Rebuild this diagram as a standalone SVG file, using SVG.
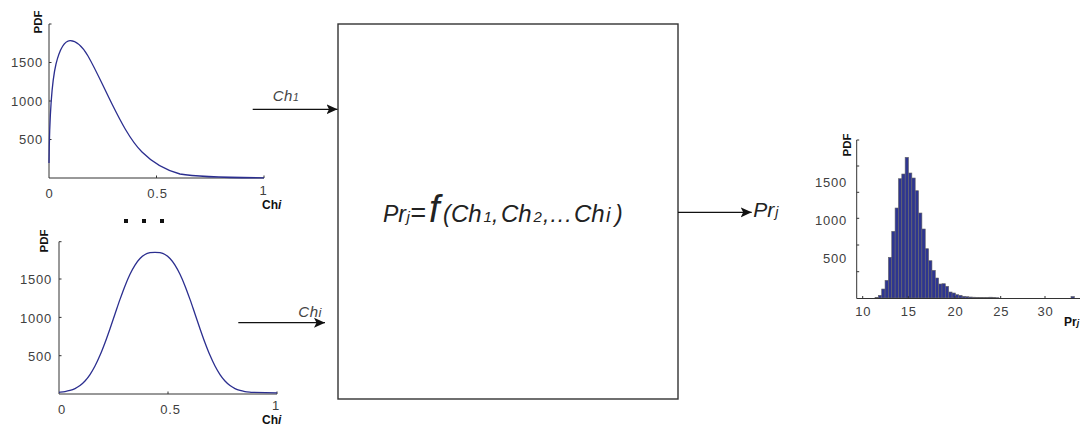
<svg xmlns="http://www.w3.org/2000/svg" width="1080" height="426" viewBox="0 0 1080 426">
<style>
.ax{stroke:#333;stroke-width:1;fill:none}
.tk{font-family:"Liberation Sans",Arial,sans-serif;font-size:13px;fill:#404040;letter-spacing:0.8px}
.pdf{font-family:"Liberation Sans",Arial,sans-serif;font-weight:bold;font-size:11.5px;fill:#111}
.xl{font-family:"Liberation Sans",Arial,sans-serif;font-weight:bold;font-size:12px;fill:#111}
.curve{stroke:#2b2e8f;stroke-width:1.3;fill:none}
.bar{fill:#2e3590;stroke:#666;stroke-width:0.6}
.arr{stroke:#111;stroke-width:1.3;fill:none}
.lbl{font-family:"Liberation Sans",Arial,sans-serif;font-style:italic;fill:#444;font-size:15px}
.fx{font-family:"Liberation Sans",Arial,sans-serif;font-style:italic;fill:#222}
.box{fill:#fff;stroke:#333;stroke-width:1.4}
.dot{fill:#111}
</style>
<defs>
<marker id="ah" markerUnits="userSpaceOnUse" markerWidth="12" markerHeight="11" refX="11" refY="5.5" orient="auto">
<path d="M0,0.5 L11,5.5 L0,10.5 L2.5,5.5 z" fill="#111"/>
</marker>
</defs>

<g id="plot-top">
<path class="ax" d="M49,24 V178 H264"/>
<path class="ax" d="M49,24 h2.5 M49,62.5 h2.5 M49,101 h2.5 M49,139.5 h2.5 M156.5,178 v-2.5 M264,178 v-2.5"/>
<text class="tk" text-anchor="end" x="43" y="67">1500</text>
<text class="tk" text-anchor="end" x="43" y="106">1000</text>
<text class="tk" text-anchor="end" x="43" y="144">500</text>
<text class="tk" text-anchor="middle" x="49.5" y="197.5">0</text>
<text class="tk" text-anchor="middle" x="157.5" y="197.5">0.5</text>
<text class="tk" text-anchor="middle" x="263.5" y="195">1</text>
<text class="pdf" text-anchor="middle" transform="translate(42,22) rotate(-90)">PDF</text>
<text class="xl" x="262" y="208.5">Ch<tspan font-style="italic">i</tspan></text>
<path class="curve" d="M49,163 C49.5,120 51,85 56,64 C60,48 65,41 70,40.7 C76,40.5 82,46 88,56 C96,70 104,88 112,104 C120,120 130,140 142,152 C152,162 165,170 180,174 C200,177.5 230,177.7 264,177.8"/>
</g>

<g id="dots">
<rect class="dot" x="124" y="219" width="4" height="4"/>
<rect class="dot" x="142" y="219" width="4" height="4"/>
<rect class="dot" x="160" y="219" width="4" height="4"/>
</g>

<g id="plot-bottom">
<path class="ax" d="M59,241.7 V394 H277"/>
<path class="ax" d="M59,241.7 h2.5 M59,279 h2.5 M59,317.4 h2.5 M59,355.7 h2.5 M168,394 v-2.5 M277,394 v-2.5"/>
<text class="tk" text-anchor="end" x="52" y="284">1500</text>
<text class="tk" text-anchor="end" x="52" y="322.5">1000</text>
<text class="tk" text-anchor="end" x="52" y="361">500</text>
<text class="tk" text-anchor="middle" x="62" y="414">0</text>
<text class="tk" text-anchor="middle" x="170.5" y="414">0.5</text>
<text class="tk" text-anchor="middle" x="276" y="410">1</text>
<text class="pdf" text-anchor="middle" transform="translate(48,241) rotate(-90)">PDF</text>
<text class="xl" x="262" y="423.5">Ch<tspan font-style="italic">i</tspan></text>
<path class="curve" d="M59,392.29 C60,392.17 63.17,391.89 65,391.59 S68.33,390.97 70,390.47 S73.33,389.39 75,388.57 S78.33,386.8 80,385.53 S83.33,382.8 85,380.97 S88.33,377.04 90,374.55 S93.33,369.23 95,366.03 S98.33,359.23 100,355.35 S103.33,347.17 105,342.73 S108.33,333.49 110,328.69 S113.33,318.83 115,313.95 S118.33,304.06 120,299.39 S123.33,290.09 125,285.91 S128.33,277.76 130,274.29 S133.33,267.7 135,265.07 S138.33,260.25 140,258.49 S143.33,255.46 145,254.49 S148.33,253.03 150,252.66 S153.33,252.3 155,252.3 S158.33,252.3 160,252.66 S163.33,253.52 165,254.49 S168.33,256.73 170,258.49 S173.33,262.44 175,265.07 S178.33,270.82 180,274.29 S183.33,281.73 185,285.91 S188.33,294.72 190,299.39 S193.33,309.07 195,313.95 S198.33,323.89 200,328.69 S203.33,338.29 205,342.73 S208.33,351.47 210,355.35 S213.33,362.83 215,366.03 S218.33,372.06 220,374.55 S223.33,379.14 225,380.97 S228.33,384.26 230,385.53 S233.33,387.75 235,388.57 S238.33,389.97 240,390.47 S243.33,391.29 245,391.59 S250,392.17 251,392.29 L277,392.8"/>
</g>

<g id="box-f">
<rect class="box" x="338" y="24" width="340" height="375"/>
<text class="fx" y="221.7"><tspan x="383" font-size="23">Pr</tspan><tspan x="406.5" font-size="15">j</tspan><tspan x="410" font-size="27">=</tspan><tspan x="429" font-size="38">f</tspan><tspan x="443" font-size="23">(</tspan><tspan x="451" font-size="24">Ch</tspan><tspan x="483.5" font-size="15">1</tspan><tspan x="492" font-size="23">,</tspan><tspan x="501" font-size="24">Ch</tspan><tspan x="533.5" font-size="15">2</tspan><tspan x="543" font-size="23" letter-spacing="1">,...</tspan><tspan x="574" font-size="24">Ch</tspan><tspan x="606" font-size="20">i</tspan><tspan x="615" font-size="23">)</tspan></text>
</g>

<g id="connectors">
<path class="arr" d="M252.7,109.3 H337.5" marker-end="url(#ah)"/>
<path class="arr" d="M238.3,322.7 H325" marker-end="url(#ah)"/>
<path class="arr" d="M678,212.3 H751.7" marker-end="url(#ah)"/>
<text class="lbl" x="272.7" y="100.7" letter-spacing="0.5">Ch<tspan font-size="10.5">1</tspan></text>
<text class="lbl" x="298.3" y="317.3" letter-spacing="0.5">Ch<tspan font-size="13">i</tspan></text>
<text class="fx" x="753.3" y="216.7" font-size="21">Pr<tspan font-size="14" dx="1">j</tspan></text>
</g>

<g id="hist">
<g>
<rect class="bar" x="875" y="297.3" width="3.35" height="0.7"/>
<rect class="bar" x="878.35" y="295.3" width="3.35" height="2.7"/>
<rect class="bar" x="881.7" y="289" width="3.35" height="9"/>
<rect class="bar" x="885.05" y="280.3" width="3.35" height="17.7"/>
<rect class="bar" x="888.4" y="257.3" width="3.35" height="40.7"/>
<rect class="bar" x="891.75" y="231.3" width="3.35" height="66.7"/>
<rect class="bar" x="895.1" y="208" width="3.35" height="90"/>
<rect class="bar" x="898.45" y="178.7" width="3.35" height="119.3"/>
<rect class="bar" x="901.8" y="174" width="3.35" height="124"/>
<rect class="bar" x="905.15" y="157.3" width="3.35" height="140.7"/>
<rect class="bar" x="908.5" y="173" width="3.35" height="125"/>
<rect class="bar" x="911.85" y="178" width="3.35" height="120"/>
<rect class="bar" x="915.2" y="190.7" width="3.35" height="107.3"/>
<rect class="bar" x="918.55" y="213" width="3.35" height="85"/>
<rect class="bar" x="921.9" y="229" width="3.35" height="69"/>
<rect class="bar" x="925.25" y="248.7" width="3.35" height="49.3"/>
<rect class="bar" x="928.6" y="260.7" width="3.35" height="37.3"/>
<rect class="bar" x="931.95" y="270.3" width="3.35" height="27.7"/>
<rect class="bar" x="935.3" y="278" width="3.35" height="20"/>
<rect class="bar" x="938.65" y="284" width="3.35" height="14"/>
<rect class="bar" x="942" y="283.7" width="3.35" height="14.3"/>
<rect class="bar" x="945.35" y="286.3" width="3.35" height="11.7"/>
<rect class="bar" x="948.7" y="292" width="3.35" height="6"/>
<rect class="bar" x="952.05" y="293" width="3.35" height="5"/>
<rect class="bar" x="955.4" y="294.7" width="3.35" height="3.3"/>
<rect class="bar" x="958.75" y="295.3" width="3.35" height="2.7"/>
<rect class="bar" x="962.1" y="296.3" width="3.35" height="1.7"/>
<rect class="bar" x="965.45" y="296.7" width="3.35" height="1.3"/>
<rect class="bar" x="968.8" y="297" width="3.35" height="1"/>
<rect class="bar" x="972.15" y="297.2" width="3.35" height="0.8"/>
<rect class="bar" x="975.5" y="297.3" width="3.35" height="0.7"/>
<rect class="bar" x="978.85" y="297.4" width="3.35" height="0.6"/>
<rect class="bar" x="982.2" y="297.5" width="3.35" height="0.5"/>
<rect class="bar" x="985.55" y="297.5" width="3.35" height="0.5"/>
<rect class="bar" x="988.9" y="297.2" width="3.35" height="0.8"/>
<rect class="bar" x="992.25" y="297.6" width="3.35" height="0.4"/>
<rect class="bar" x="995.6" y="297.7" width="3.35" height="0.3"/>
<rect class="bar" x="1071" y="296.5" width="3.35" height="1.5"/>
</g>
<path class="ax" d="M856.7,140 V298.5 H1080"/>
<path class="ax" d="M856.7,140 h2.5 M856.7,166 h2.5 M856.7,192.3 h2.5 M856.7,218.3 h2.5 M856.7,245 h2.5 M856.7,271.7 h2.5 M862.7,298.5 v-2.5 M908.3,298.5 v-2.5 M955,298.5 v-2.5 M1000.7,298.5 v-2.5 M1045,298.5 v-2.5"/>
<text class="tk" text-anchor="end" x="847" y="187">1500</text>
<text class="tk" text-anchor="end" x="847" y="225">1000</text>
<text class="tk" text-anchor="end" x="847" y="263">500</text>
<text class="tk" text-anchor="middle" x="863.2" y="316">10</text>
<text class="tk" text-anchor="middle" x="908.8" y="316">15</text>
<text class="tk" text-anchor="middle" x="955.5" y="316">20</text>
<text class="tk" text-anchor="middle" x="1001.2" y="316">25</text>
<text class="tk" text-anchor="middle" x="1045.5" y="316">30</text>
<text class="pdf" text-anchor="middle" transform="translate(850.5,145) rotate(-90)">PDF</text>
<text class="xl" x="1064" y="326">Pr<tspan font-style="italic" font-size="9">j</tspan></text>
</g>
</svg>
